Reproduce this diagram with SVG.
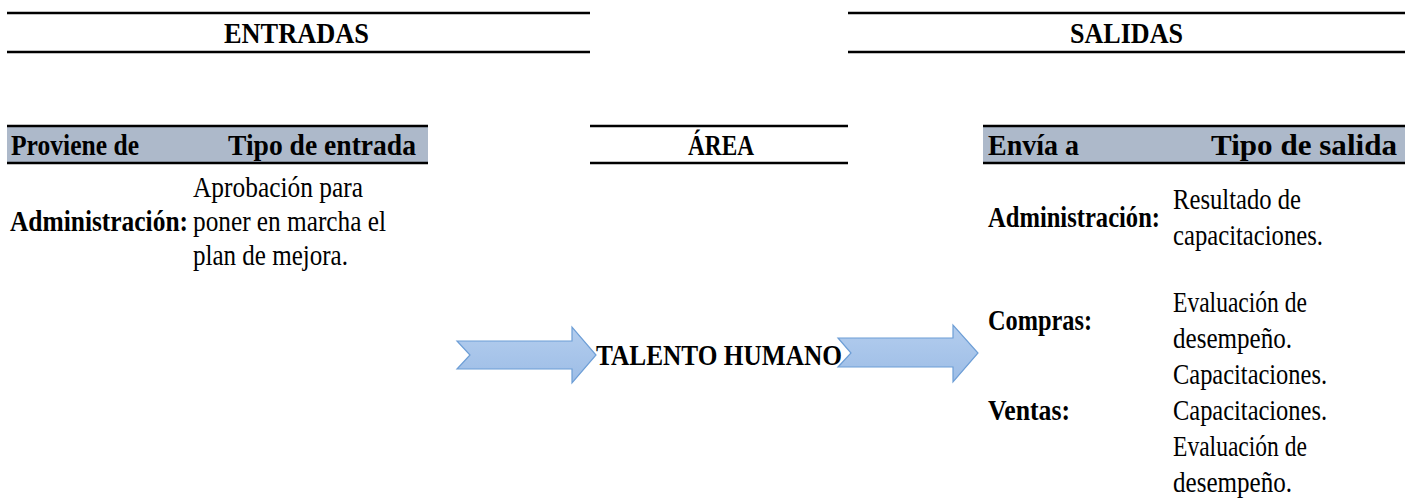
<svg xmlns="http://www.w3.org/2000/svg" width="1412" height="502" viewBox="0 0 1412 502">
<style>
text{font-family:"Liberation Serif","Times New Roman",serif;font-size:29px;fill:#000}
.b{font-weight:bold}
.rule{stroke:#000;stroke-width:2.5}
.hdr{fill:#adb9ca}
.arrow{fill:url(#g);stroke:#6d9ed6;stroke-width:1.2}
</style>
<defs>
<linearGradient id="g" x1="0" y1="0" x2="0" y2="1">
<stop offset="0" stop-color="#b3cdee"/>
<stop offset="1" stop-color="#9dbde6"/>
</linearGradient>
</defs>
<rect width="1412" height="502" fill="#fff"/>
<g id="entradas">
<line class="rule" x1="7" y1="13" x2="590" y2="13"/>
<line class="rule" x1="7" y1="52" x2="590" y2="52"/>
<text class="b" x="224" y="43" textLength="145" lengthAdjust="spacingAndGlyphs">ENTRADAS</text>
</g>
<g id="salidas">
<line class="rule" x1="848" y1="13" x2="1405" y2="13"/>
<line class="rule" x1="848" y1="52" x2="1405" y2="52"/>
<text class="b" x="1070" y="43" textLength="113" lengthAdjust="spacingAndGlyphs">SALIDAS</text>
</g>
<g id="header-entradas">
<rect class="hdr" x="7" y="126" width="421" height="37"/>
<line class="rule" x1="7" y1="126" x2="428" y2="126"/>
<line class="rule" x1="7" y1="163" x2="428" y2="163"/>
<text class="b" x="11" y="155" textLength="128" lengthAdjust="spacingAndGlyphs">Proviene de</text>
<text class="b" x="228" y="155" textLength="188" lengthAdjust="spacingAndGlyphs">Tipo de entrada</text>
</g>
<g id="header-area">
<line class="rule" x1="590" y1="126" x2="848" y2="126"/>
<line class="rule" x1="590" y1="163" x2="848" y2="163"/>
<text class="b" x="688" y="155" textLength="66" lengthAdjust="spacingAndGlyphs">ÁREA</text>
</g>
<g id="header-salidas">
<rect class="hdr" x="983" y="126" width="422" height="37"/>
<line class="rule" x1="983" y1="126" x2="1405" y2="126"/>
<line class="rule" x1="983" y1="163" x2="1405" y2="163"/>
<text class="b" x="988" y="155" textLength="91" lengthAdjust="spacingAndGlyphs">Envía a</text>
<text class="b" x="1211" y="155" textLength="186" lengthAdjust="spacingAndGlyphs">Tipo de salida</text>
</g>
<g id="entrada-administracion">
<text class="b" x="10" y="231" textLength="178" lengthAdjust="spacingAndGlyphs">Administración:</text>
<text x="193" y="197" textLength="170" lengthAdjust="spacingAndGlyphs">Aprobación para</text>
<text x="193" y="231" textLength="193" lengthAdjust="spacingAndGlyphs">poner en marcha el</text>
<text x="193" y="265" textLength="155" lengthAdjust="spacingAndGlyphs">plan de mejora.</text>
</g>
<g id="talento-humano">
<text class="b" x="596" y="365" textLength="246" lengthAdjust="spacingAndGlyphs" style="font-size:30px">TALENTO HUMANO</text>
</g>
<g id="connectors">
<path class="arrow" d="M457,341 H572 V327 L596,355 L572,383 V369 H457 L470,355 Z"/>
<path class="arrow" d="M838,338 H953 V325 L978,353 L953,382 V367 H838 L851,353 Z"/>
</g>
<g id="salida-administracion">
<text class="b" x="988" y="227" textLength="172" lengthAdjust="spacingAndGlyphs">Administración:</text>
<text x="1173" y="209" textLength="128" lengthAdjust="spacingAndGlyphs">Resultado de</text>
<text x="1173" y="245" textLength="150" lengthAdjust="spacingAndGlyphs">capacitaciones.</text>
</g>
<g id="salida-compras">
<text class="b" x="988" y="330" textLength="104" lengthAdjust="spacingAndGlyphs">Compras:</text>
<text x="1173" y="312" textLength="134" lengthAdjust="spacingAndGlyphs">Evaluación de</text>
<text x="1173" y="348" textLength="119" lengthAdjust="spacingAndGlyphs">desempeño.</text>
<text x="1173" y="384" textLength="154" lengthAdjust="spacingAndGlyphs">Capacitaciones.</text>
</g>
<g id="salida-ventas">
<text class="b" x="988" y="420" textLength="82" lengthAdjust="spacingAndGlyphs">Ventas:</text>
<text x="1173" y="420" textLength="154" lengthAdjust="spacingAndGlyphs">Capacitaciones.</text>
<text x="1173" y="456" textLength="134" lengthAdjust="spacingAndGlyphs">Evaluación de</text>
<text x="1173" y="492" textLength="119" lengthAdjust="spacingAndGlyphs">desempeño.</text>
</g>
</svg>
